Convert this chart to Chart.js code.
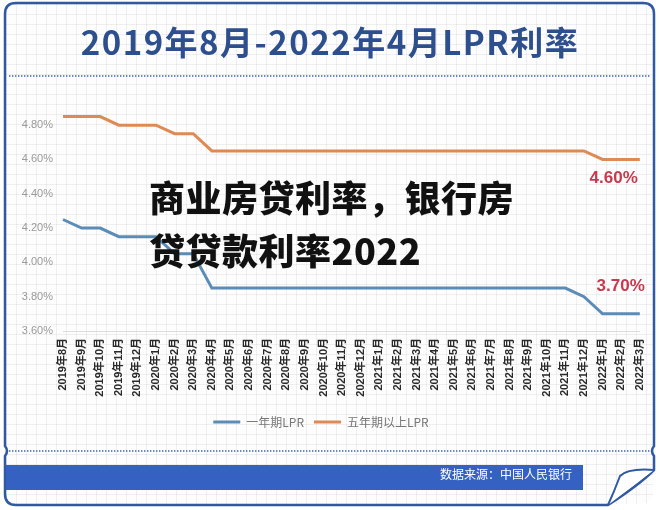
<!DOCTYPE html>
<html lang="zh">
<head>
<meta charset="utf-8">
<script src="https://cdn.jsdelivr.net/npm/chart.js@4.4.1/dist/chart.umd.min.js"></script>
<style>
  html, body { margin: 0; padding: 0; }
  body { width: 660px; height: 510px; position: relative; overflow: hidden; background: #fff;
         font-family: "Noto Sans CJK SC", "Liberation Sans", sans-serif; }
  #paper { position: absolute; left: 6px; top: 4px; width: 647px; height: 500px; border-radius: 10px;
           background-color: #fdfdfd;
           background-image: linear-gradient(rgba(0,0,0,0.055) 1px, transparent 1px),
                             linear-gradient(90deg, rgba(0,0,0,0.055) 1px, transparent 1px);
           background-size: 10px 10px; }
  #chartWrap { position: absolute; left: 0; top: 0; width: 660px; height: 510px; }
  #deco { position: absolute; left: 0; top: 0; }
  #title { position: absolute; left: 0; width: 660px; top: 16px; text-align: center;
           font: bold 33px "Noto Sans CJK SC", sans-serif; color: #2d4f8e; letter-spacing: 1.5px; line-height: 50px; }
  #source { position: absolute; left: 380px; width: 192px; top: 465px; height: 25px; line-height: 25px;
            text-align: right; color: #fff; font: 12px "Noto Sans CJK SC", sans-serif; white-space: nowrap; }
  #headline { position: absolute; left: 149px; top: 170px; font: 900 36px "Noto Sans CJK SC", sans-serif;
              color: #111; line-height: 53px; letter-spacing: 0.5px; }
</style>
</head>
<body>
<div id="paper"></div>
<div id="chartWrap"><canvas id="c" width="660" height="510"></canvas></div>
<svg id="deco" width="660" height="510" viewBox="0 0 660 510">
  <path d="M16,3 H643 Q654,3 654,14 V446 Q650,451 654,456 V470 C642,482 625,494 608,505 H16 Q5,505 5,494 V456 Q9,451 5,446 V14 Q5,3 16,3 Z"
        fill="none" stroke="#2f5aa3" stroke-width="2.5"/>
  <path d="M654,470 Q628,468 620,476 Q614,492 608,505" fill="#fff" stroke="#2f5aa3" stroke-width="2"/>
  <line x1="9" y1="76" x2="651" y2="76" stroke="#3a62ad" stroke-width="1.4" stroke-dasharray="1.4 1.6"/>
  <line x1="9" y1="451" x2="651" y2="451" stroke="#3a62ad" stroke-width="1.4" stroke-dasharray="1.4 1.6"/>
  <rect x="6" y="465" width="577" height="25" fill="#3562c2"/>
</svg>
<div id="title">2019年8月-2022年4月LPR利率</div>
<div id="source">数据来源：中国人民银行</div>
<div id="headline">商业房贷利率，银行房<br>贷贷款利率2022</div>
<script>
// ---- data ----
const months = [
  '2019年8月','2019年9月','2019年10月','2019年11月','2019年12月',
  '2020年1月','2020年2月','2020年3月','2020年4月','2020年5月','2020年6月',
  '2020年7月','2020年8月','2020年9月','2020年10月','2020年11月','2020年12月',
  '2021年1月','2021年2月','2021年3月','2021年4月','2021年5月','2021年6月',
  '2021年7月','2021年8月','2021年9月','2021年10月','2021年11月','2021年12月',
  '2022年1月','2022年2月','2022年3月'
];
const oneYearLPR = [
  4.25, 4.20, 4.20, 4.15, 4.15,
  4.15, 4.05, 4.05, 3.85, 3.85, 3.85,
  3.85, 3.85, 3.85, 3.85, 3.85, 3.85,
  3.85, 3.85, 3.85, 3.85, 3.85, 3.85,
  3.85, 3.85, 3.85, 3.85, 3.85, 3.80,
  3.70, 3.70, 3.70
];
const fiveYearLPR = [
  4.85, 4.85, 4.85, 4.80, 4.80,
  4.80, 4.75, 4.75, 4.65, 4.65, 4.65,
  4.65, 4.65, 4.65, 4.65, 4.65, 4.65,
  4.65, 4.65, 4.65, 4.65, 4.65, 4.65,
  4.65, 4.65, 4.65, 4.65, 4.65, 4.65,
  4.60, 4.60, 4.60
];
const seriesNames = ['一年期LPR', '五年期以上LPR'];
const yTicks = [3.6, 3.8, 4.0, 4.2, 4.4, 4.6, 4.8];

const endLabels = {
  id: 'endLabels',
  afterDatasetsDraw(chart) {
    const ctx = chart.ctx;
    ctx.save();
    ctx.font = '600 17px "Liberation Sans", Arial, sans-serif';
    ctx.fillStyle = '#c73a4e';
    ctx.textAlign = 'right';
    ctx.textBaseline = 'middle';
    const offsets = [{dx: 5, dy: -28}, {dx: -2, dy: 19}];
    chart.data.datasets.forEach((ds, i) => {
      const meta = chart.getDatasetMeta(i);
      const pt = meta.data[meta.data.length - 1];
      const v = ds.data[ds.data.length - 1];
      ctx.fillText(v.toFixed(2) + '%', pt.x + offsets[i].dx, pt.y + offsets[i].dy);
    });
    ctx.restore();
  }
};

new Chart(document.getElementById('c'), {
  type: 'line',
  data: {
    labels: months,
    datasets: [
      { label: seriesNames[0], data: oneYearLPR, borderColor: '#5b8cb8', backgroundColor: '#5b8cb8',
        borderWidth: 3, pointRadius: 0, tension: 0 },
      { label: seriesNames[1], data: fiveYearLPR, borderColor: '#de8a55', backgroundColor: '#de8a55',
        borderWidth: 3, pointRadius: 0, tension: 0 }
    ]
  },
  options: {
    responsive: false,
    animation: false,
    layout: { padding: { top: 108, right: 18, bottom: 72, left: 0 } },
    plugins: {
      legend: {
        position: 'bottom',
        labels: {
          usePointStyle: true, pointStyle: 'line', pointStyleWidth: 27, boxHeight: 12,
          padding: 10, color: '#777',
          font: { size: 12, family: '"Noto Sans CJK SC", sans-serif' }
        }
      },
      tooltip: { enabled: false }
    },
    scales: {
      x: {
        offset: false,
        grid: { display: false, drawTicks: false },
        border: { display: true, color: '#dcdcdc', width: 1 },
        ticks: { autoSkip: false, maxRotation: 90, minRotation: 90, padding: 7, color: '#2a2a2a',
                 font: { size: 11, weight: 'bold', family: '"Liberation Sans", "Noto Sans CJK SC", sans-serif' } },
        afterFit(scale) { scale.height = 75; }
      },
      y: {
        min: 3.6, max: 4.9,
        grid: { display: false, drawTicks: false },
        border: { display: false },
        afterBuildTicks(scale) { scale.ticks = yTicks.map(v => ({ value: v })); },
        ticks: { padding: 10, color: '#9a9a9a',
                 font: { size: 11, family: '"Liberation Sans", Arial, sans-serif' },
                 callback: v => Number(v).toFixed(2) + '%' },
        afterFit(scale) { scale.width = 63; }
      }
    }
  },
  plugins: [endLabels]
});
</script>
</body>
</html>
